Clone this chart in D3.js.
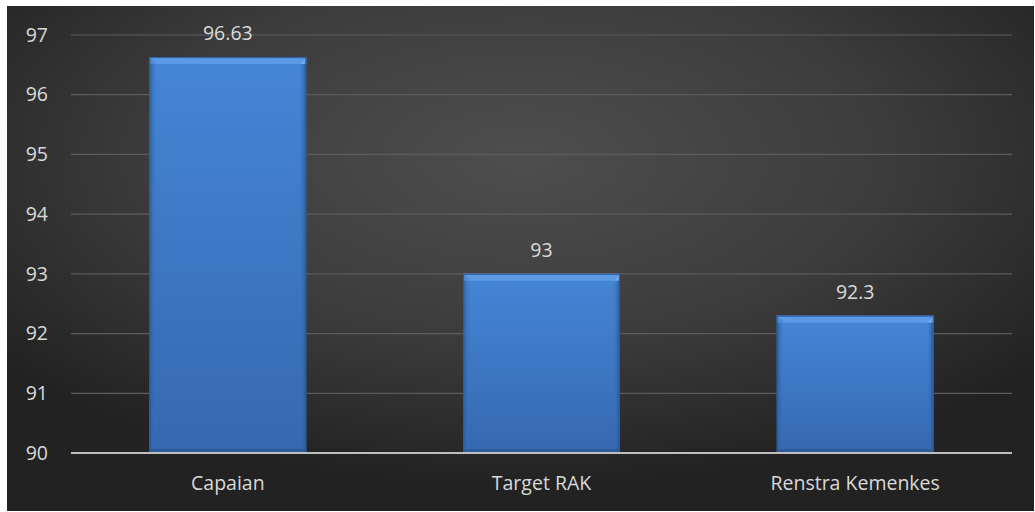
<!DOCTYPE html>
<html>
<head>
<meta charset="utf-8">
<script src="https://cdn.jsdelivr.net/npm/d3@7"></script>
<style>
  html, body { margin: 0; padding: 0; background: #ffffff; }
  svg { display: block; }
</style>
</head>
<body>
<svg id="chart" width="1035" height="512"></svg>
<script>
// Chart data
const categories = ["Capaian", "Target RAK", "Renstra Kemenkes"];
const values = [96.63, 93, 92.3];
const valueLabels = ["96.63", "93", "92.3"];
const yTicks = [90, 91, 92, 93, 94, 95, 96, 97];

const svg = d3.select("#chart");
const frame = { x: 7, y: 6, w: 1027, h: 505 };
const plot = { left: 71, right: 1012, top: 35, bottom: 453 };
const font = "'Open Sans', 'Noto Sans', sans-serif";
const fontSize = 19.5;
const textColor = "#d9d9d9";

const defs = svg.append("defs");

// Dark radial background
const bg = defs.append("radialGradient").attr("id", "bg")
  .attr("cx", "50%").attr("cy", "30%").attr("r", "65%");
bg.append("stop").attr("offset", "0%").attr("stop-color", "#4e4e4e");
bg.append("stop").attr("offset", "55%").attr("stop-color", "#3c3c3c");
bg.append("stop").attr("offset", "100%").attr("stop-color", "#222222");

// Bar face gradients
const face = defs.append("linearGradient").attr("id", "face")
  .attr("x1", 0).attr("y1", 0).attr("x2", 0).attr("y2", 1);
face.append("stop").attr("offset", "0%").attr("stop-color", "#4586d6");
face.append("stop").attr("offset", "100%").attr("stop-color", "#3668b0");

const sideL = defs.append("linearGradient").attr("id", "sideL")
  .attr("x1", 0).attr("y1", 0).attr("x2", 1).attr("y2", 0);
sideL.append("stop").attr("offset", "0%").attr("stop-color", "#2c5a9a").attr("stop-opacity", 0.9);
sideL.append("stop").attr("offset", "100%").attr("stop-color", "#3b76c2").attr("stop-opacity", 0);

const sideR = defs.append("linearGradient").attr("id", "sideR")
  .attr("x1", 1).attr("y1", 0).attr("x2", 0).attr("y2", 0);
sideR.append("stop").attr("offset", "0%").attr("stop-color", "#2a5591").attr("stop-opacity", 0.95);
sideR.append("stop").attr("offset", "100%").attr("stop-color", "#3b76c2").attr("stop-opacity", 0);

svg.append("rect")
  .attr("x", frame.x).attr("y", frame.y)
  .attr("width", frame.w).attr("height", frame.h)
  .attr("fill", "url(#bg)");

const x = d3.scaleBand()
  .domain(categories)
  .range([plot.left, plot.right])
  .paddingInner(0.5)
  .paddingOuter(0.25);

const y = d3.scaleLinear()
  .domain([90, 97])
  .range([plot.bottom, plot.top]);

// Gridlines
svg.append("g")
  .selectAll("line")
  .data(yTicks.filter(t => t !== 90))
  .join("line")
  .attr("x1", plot.left).attr("x2", plot.right)
  .attr("y1", d => y(d)).attr("y2", d => y(d))
  .attr("stroke", "#5c5c5c")
  .attr("stroke-width", 1.2);

// Y axis labels
const yAxis = svg.append("g")
  .attr("transform", `translate(${plot.left},0)`)
  .call(d3.axisLeft(y).tickValues(yTicks).tickSize(0).tickPadding(23).tickFormat(d3.format("d")));
yAxis.select(".domain").remove();
yAxis.selectAll("text")
  .attr("fill", textColor)
  .attr("font-family", font)
  .attr("font-size", fontSize);

// Bars with bevelled edges
const bev = 7;
const bars = svg.append("g").selectAll("g")
  .data(categories.map((c, i) => ({ c, v: values[i], label: valueLabels[i] })))
  .join("g");

bars.append("rect")
  .attr("x", d => x(d.c))
  .attr("y", d => y(d.v))
  .attr("width", x.bandwidth())
  .attr("height", d => y(90) - y(d.v))
  .attr("fill", "url(#face)");

// left side shading
bars.append("rect")
  .attr("x", d => x(d.c))
  .attr("y", d => y(d.v))
  .attr("width", bev)
  .attr("height", d => y(90) - y(d.v))
  .attr("fill", "url(#sideL)");

// right side shading
bars.append("rect")
  .attr("x", d => x(d.c) + x.bandwidth() - bev)
  .attr("y", d => y(d.v))
  .attr("width", bev)
  .attr("height", d => y(90) - y(d.v))
  .attr("fill", "url(#sideR)");

// top bevel
bars.append("polygon")
  .attr("points", d => {
    const x0 = x(d.c), x1 = x0 + x.bandwidth(), t = y(d.v);
    return [[x0, t], [x1, t], [x1 - bev, t + bev], [x0 + bev, t + bev]].map(p => p.join(",")).join(" ");
  })
  .attr("fill", "#5c9ae6");

// top-right corner highlight
bars.append("polygon")
  .attr("points", d => {
    const x1 = x(d.c) + x.bandwidth(), t = y(d.v);
    return [[x1, t], [x1, t + bev], [x1 - bev, t + bev]].map(p => p.join(",")).join(" ");
  })
  .attr("fill", "#6fa6e8");

// top-left corner
bars.append("polygon")
  .attr("points", d => {
    const x0 = x(d.c), t = y(d.v);
    return [[x0, t], [x0 + bev, t + bev], [x0, t + bev]].map(p => p.join(",")).join(" ");
  })
  .attr("fill", "#4f8cd8");

// bottom darker edge
bars.append("rect")
  .attr("x", d => x(d.c))
  .attr("y", y(90) - 4)
  .attr("width", x.bandwidth())
  .attr("height", 4)
  .attr("fill", "#2a548e")
  .attr("opacity", 0.6);

// outline
bars.append("rect")
  .attr("x", d => x(d.c) + 0.5)
  .attr("y", d => y(d.v) + 0.5)
  .attr("width", x.bandwidth() - 1)
  .attr("height", d => y(90) - y(d.v) - 1)
  .attr("fill", "none")
  .attr("stroke", "#2d5b9c")
  .attr("stroke-width", 1);

// Value labels
bars.append("text")
  .attr("x", d => x(d.c) + x.bandwidth() / 2)
  .attr("y", d => y(d.v) - 17)
  .attr("text-anchor", "middle")
  .attr("fill", textColor)
  .attr("font-family", font)
  .attr("font-size", fontSize)
  .text(d => d.label);

// Category axis
const xAxis = svg.append("g")
  .attr("transform", `translate(0,${plot.bottom})`)
  .call(d3.axisBottom(x).tickSize(0).tickPadding(23));
xAxis.select(".domain")
  .attr("d", `M${plot.left},0H${plot.right}`)
  .attr("stroke", "#bfbfbf")
  .attr("stroke-width", 2);
xAxis.selectAll("text")
  .attr("fill", textColor)
  .attr("font-family", font)
  .attr("font-size", fontSize);
</script>
</body>
</html>
